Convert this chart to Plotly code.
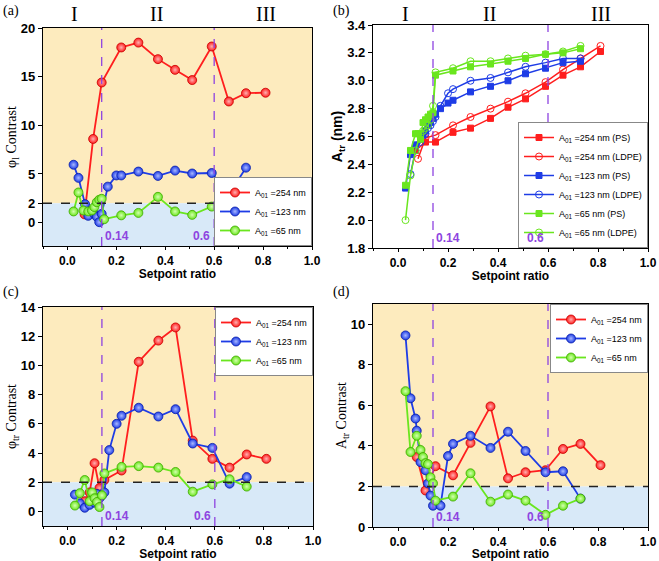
import plotly.graph_objects as go

# ---------------- data ----------------
# (a) phi_1 contrast
a_red_x = [0.07, 0.105, 0.14, 0.22, 0.29, 0.37, 0.44, 0.51, 0.59, 0.66, 0.73, 0.81]
a_red_y = [0.85, 8.6, 14.4, 18.0, 18.5, 16.8, 15.7, 14.65, 18.1, 12.45, 13.3, 13.35]
a_blue_x = [0.025, 0.045, 0.072, 0.085, 0.11, 0.12, 0.13, 0.14, 0.165, 0.2, 0.22, 0.29, 0.37, 0.44, 0.51, 0.59, 0.66, 0.73]
a_blue_y = [5.95, 4.6, 1.9, 0.7, 0.9, 0.6, 0.05, 0.9, 3.7, 4.85, 4.85, 5.25, 4.8, 5.35, 5.05, 5.1, 2.9, 5.65]
a_green_x = [0.025, 0.045, 0.065, 0.085, 0.1, 0.11, 0.12, 0.13, 0.14, 0.15, 0.22, 0.29, 0.37, 0.44, 0.51, 0.59, 0.66, 0.73]
a_green_y = [1.15, 3.1, 1.25, 1.15, 1.25, 1.6, 2.1, 2.35, 2.45, 0.35, 0.75, 1.0, 2.65, 1.15, 0.8, 1.65, 2.4, 2.0]

# (b) A_tr (nm)
b_red_ps_x = [0.07, 0.11, 0.15, 0.22, 0.29, 0.37, 0.44, 0.51, 0.59, 0.66, 0.73, 0.81]
b_red_ps_y = [2.50, 2.56, 2.56, 2.63, 2.66, 2.73, 2.81, 2.87, 2.96, 3.04, 3.10, 3.21]
b_red_ld_x = [0.08, 0.11, 0.15, 0.22, 0.29, 0.37, 0.44, 0.51, 0.59, 0.66, 0.73, 0.81]
b_red_ld_y = [2.44, 2.59, 2.61, 2.68, 2.74, 2.80, 2.85, 2.91, 2.99, 3.08, 3.16, 3.25]
b_blue_ps_x = [0.03, 0.05, 0.07, 0.09, 0.10, 0.11, 0.12, 0.13, 0.14, 0.15, 0.17, 0.20, 0.22, 0.29, 0.37, 0.44, 0.51, 0.59, 0.66, 0.73]
b_blue_ps_y = [2.23, 2.47, 2.54, 2.58, 2.61, 2.64, 2.68, 2.70, 2.73, 2.76, 2.80, 2.84, 2.86, 2.92, 2.96, 3.00, 3.05, 3.09, 3.13, 3.14]
b_blue_ld_x = [0.05, 0.07, 0.09, 0.11, 0.12, 0.13, 0.14, 0.15, 0.17, 0.20, 0.22, 0.29, 0.37, 0.44, 0.51, 0.59, 0.66, 0.73]
b_blue_ld_y = [2.33, 2.50, 2.56, 2.62, 2.66, 2.68, 2.71, 2.74, 2.82, 2.91, 2.94, 3.00, 3.02, 3.06, 3.10, 3.13, 3.16, 3.16]
b_green_ps_x = [0.03, 0.05, 0.07, 0.08, 0.09, 0.10, 0.11, 0.12, 0.13, 0.14, 0.15, 0.22, 0.29, 0.37, 0.44, 0.51, 0.59, 0.66, 0.73]
b_green_ps_y = [2.25, 2.50, 2.62, 2.62, 2.58, 2.70, 2.72, 2.74, 2.76, 2.77, 3.04, 3.07, 3.10, 3.12, 3.14, 3.16, 3.19, 3.20, 3.23]
b_green_ld_x = [0.03, 0.05, 0.07, 0.09, 0.10, 0.11, 0.12, 0.13, 0.14, 0.15, 0.22, 0.29, 0.37, 0.44, 0.51, 0.59, 0.66, 0.73]
b_green_ld_y = [2.00, 2.32, 2.50, 2.62, 2.64, 2.66, 2.68, 2.72, 2.82, 3.06, 3.09, 3.14, 3.14, 3.16, 3.18, 3.19, 3.21, 3.25]

# (c) phi_tr contrast
c_red_x = [0.07, 0.09, 0.11, 0.13, 0.15, 0.22, 0.29, 0.37, 0.44, 0.51, 0.59, 0.66, 0.73, 0.81]
c_red_y = [0.7, 1.3, 3.3, 1.6, 2.15, 2.8, 10.25, 11.7, 12.6, 4.85, 3.6, 3.0, 3.9, 3.6]
c_blue_x = [0.03, 0.05, 0.07, 0.09, 0.10, 0.11, 0.12, 0.13, 0.14, 0.15, 0.17, 0.2, 0.22, 0.29, 0.37, 0.44, 0.51, 0.59, 0.66, 0.73]
c_blue_y = [1.15, 0.55, 0.25, 0.45, 0.8, 0.6, 1.2, 0.9, 1.1, 1.3, 4.2, 6.0, 6.55, 7.1, 6.5, 7.0, 4.65, 4.35, 1.9, 2.35]
c_green_x = [0.03, 0.05, 0.07, 0.09, 0.10, 0.11, 0.12, 0.13, 0.14, 0.15, 0.22, 0.29, 0.37, 0.44, 0.51, 0.59, 0.66, 0.73]
c_green_y = [0.4, 1.25, 2.15, 0.7, 1.3, 0.9, 0.65, 0.3, 1.1, 2.6, 3.05, 3.1, 3.0, 2.7, 1.35, 1.85, 2.2, 1.7]

# (d) A_tr contrast
d_red_x = [0.075, 0.11, 0.15, 0.22, 0.29, 0.37, 0.44, 0.51, 0.59, 0.66, 0.73, 0.81]
d_red_y = [3.45, 1.8, 3.0, 2.55, 4.15, 5.95, 2.4, 2.7, 2.8, 3.85, 4.1, 3.05]
d_blue_x = [0.03, 0.05, 0.07, 0.075, 0.09, 0.11, 0.12, 0.13, 0.14, 0.17, 0.2, 0.22, 0.29, 0.37, 0.44, 0.51, 0.59, 0.66, 0.73]
d_blue_y = [9.45, 6.35, 5.35, 4.75, 3.2, 2.8, 2.15, 1.55, 1.05, 1.05, 3.5, 4.1, 4.5, 3.9, 4.7, 3.75, 2.7, 2.75, 1.4]
d_green_x = [0.03, 0.05, 0.075, 0.09, 0.1, 0.11, 0.12, 0.13, 0.14, 0.15, 0.22, 0.29, 0.37, 0.44, 0.51, 0.59, 0.66, 0.73]
d_green_y = [6.7, 3.7, 4.5, 3.8, 3.45, 3.15, 3.1, 2.45, 2.15, 1.3, 1.5, 2.65, 1.25, 1.6, 1.3, 0.6, 1.05, 1.4]

names3 = ["A<sub>01</sub> =254 nm", "A<sub>01</sub> =123 nm", "A<sub>01</sub> =65 nm"]
names6 = ["A<sub>01</sub> =254 nm (PS)", "A<sub>01</sub> =254 nm (LDPE)",
          "A<sub>01</sub> =123 nm (PS)", "A<sub>01</sub> =123 nm (LDPE)",
          "A<sub>01</sub> =65 nm (PS)", "A<sub>01</sub> =65 nm (LDPE)"]
regions = ["I", "II", "III"]
region_x = [0.03, 0.365, 0.81]
thresholds = [0.14, 0.6]
threshold_labels = ["0.14", "0.6"]

# ---------------- style ----------------
RED, BLUE, GREEN = "#FF1E1E", "#1E3CE6", "#6AE61E"
RED_D, BLUE_D, GREEN_D = "#C80000", "#0A1FA8", "#3FA800"
RED_L, BLUE_L, GREEN_L = "#FFB0B0", "#A8B8FF", "#D4FFB0"
PURPLE = "#8E44E0"
YELLOW_BG = "#FDEBBE"
BLUE_BG = "#D8E9F8"
SANS = "Liberation Sans"
SERIF = "Liberation Serif"

W, H = 659, 561
def px_x(p):
    return p / W
def px_y(p):
    return 1 - p / H

dom = {
    "a": ([px_x(43), px_x(312)], [px_y(246), px_y(28)]),
    "b": ([px_x(373), px_x(648)], [px_y(248), px_y(25)]),
    "c": ([px_x(43), px_x(313)], [px_y(526), px_y(307)]),
    "d": ([px_x(373), px_x(648)], [px_y(527), px_y(304)]),
}
axmap = {"a": ("x", "y", ""), "b": ("x2", "y2", "2"), "c": ("x3", "y3", "3"), "d": ("x4", "y4", "4")}
legmap = {"a": "legend", "b": "legend2", "c": "legend3", "d": "legend4"}

fig = go.Figure()

def sphere_trace(p, x, y, name, col, dark, light):
    xa, ya, _ = axmap[p]
    fig.add_trace(go.Scatter(
        x=x, y=y, name=name, mode="lines+markers", xaxis=xa, yaxis=ya,
        legend=legmap[p],
        line=dict(color=col, width=1.8),
        marker=dict(symbol="circle", size=9, color=col,
                    line=dict(color=dark, width=0.8),
                    gradient=dict(type="radial", color=light)),
    ))

for p, series in [
    ("a", [(a_red_x, a_red_y), (a_blue_x, a_blue_y), (a_green_x, a_green_y)]),
    ("c", [(c_red_x, c_red_y), (c_blue_x, c_blue_y), (c_green_x, c_green_y)]),
    ("d", [(d_red_x, d_red_y), (d_blue_x, d_blue_y), (d_green_x, d_green_y)]),
]:
    for (sx, sy), nm, col, dk, lt in zip(series, names3, [RED, BLUE, GREEN], [RED_D, BLUE_D, GREEN_D], [RED_L, BLUE_L, GREEN_L]):
        sphere_trace(p, sx, sy, nm, col, dk, lt)

b_series = [(b_red_ps_x, b_red_ps_y), (b_red_ld_x, b_red_ld_y),
            (b_blue_ps_x, b_blue_ps_y), (b_blue_ld_x, b_blue_ld_y),
            (b_green_ps_x, b_green_ps_y), (b_green_ld_x, b_green_ld_y)]
b_cols = [RED, RED, BLUE, BLUE, GREEN, GREEN]
for i, ((sx, sy), nm, col) in enumerate(zip(b_series, names6, b_cols)):
    filled = i % 2 == 0
    fig.add_trace(go.Scatter(
        x=sx, y=sy, name=nm, mode="lines+markers", xaxis="x2", yaxis="y2",
        legend="legend2",
        line=dict(color=col, width=1.5),
        marker=dict(symbol="square" if filled else "circle-open", size=6 if filled else 7,
                    color=col, line=dict(color=col, width=1)),
    ))

shapes = []
annotations = []
yranges = {"a": [-2.4, 20], "b": [1.8, 3.4], "c": [-1, 14], "d": [0, 11]}

for p in ["a", "b", "c", "d"]:
    xa, ya, sfx = axmap[p]
    if p != "b":
        shapes.append(dict(type="rect", xref=f"{xa} domain", yref=ya, x0=0, x1=1, y0=2, y1=yranges[p][1],
                           fillcolor=YELLOW_BG, line=dict(width=0), layer="below"))
        shapes.append(dict(type="rect", xref=f"{xa} domain", yref=ya, x0=0, x1=1, y0=yranges[p][0], y1=2,
                           fillcolor=BLUE_BG, line=dict(width=0), layer="below"))
        shapes.append(dict(type="line", xref=f"{xa} domain", yref=ya, x0=0, x1=1, y0=2, y1=2,
                           line=dict(color="#222222", width=1.5, dash="dash"), layer="above"))
    for t in thresholds:
        shapes.append(dict(type="line", xref=xa, yref=f"{ya} domain", x0=t, x1=t, y0=0, y1=1,
                           line=dict(color=PURPLE, width=1.3, dash="dash"), layer="above"))
    annotations.append(dict(x=thresholds[0], y=0, xref=xa, yref=f"{ya} domain", text=f"<b>{threshold_labels[0]}</b>",
                            showarrow=False, xanchor="left", yanchor="bottom", xshift=1, yshift=1,
                            font=dict(family=SANS, size=12, color=PURPLE)))
    annotations.append(dict(x=thresholds[1], y=0, xref=xa, yref=f"{ya} domain", text=f"<b>{threshold_labels[1]}</b>",
                            showarrow=False, xanchor="right", yanchor="bottom", xshift=-2, yshift=1,
                            font=dict(family=SANS, size=12, color=PURPLE)))
    if p in ("a", "b"):
        for r, rx in zip(regions, region_x):
            annotations.append(dict(x=rx, y=px_y(14), xref=xa, yref="paper", text=r, showarrow=False,
                                    xanchor="center", yanchor="middle",
                                    font=dict(family=SERIF, size=20, color="black")))

# panel letters
for lbl, lx, ly in [("(a)", 1, 11), ("(b)", 331, 11), ("(c)", 1, 292), ("(d)", 331, 292)]:
    annotations.append(dict(x=px_x(lx), y=px_y(ly), xref="paper", yref="paper", text=lbl, showarrow=False,
                            xanchor="left", yanchor="middle", font=dict(family=SERIF, size=14, color="black")))

layout = dict(
    width=W, height=H, margin=dict(l=0, r=0, t=0, b=0, autoexpand=False),
    paper_bgcolor="white", plot_bgcolor="white",
    shapes=shapes, annotations=annotations,
)

ytitles = {"a": ("φ<sub>l</sub> Contrast", SERIF, False),
           "b": ("A<sub>tr</sub> (nm)", SANS, True),
           "c": ("φ<sub>tr</sub> Contrast", SERIF, False),
           "d": ("A<sub>tr</sub> Contrast", SERIF, False)}
yticks = {"a": [0, 2, 5, 10, 15, 20], "b": [1.8, 2.0, 2.2, 2.4, 2.6, 2.8, 3.0, 3.2, 3.4],
          "c": [0, 2, 4, 6, 8, 10, 12, 14], "d": [0, 2, 4, 6, 8, 10]}
ytickfmt = {"a": "d", "b": ".1f", "c": "d", "d": "d"}

for p in ["a", "b", "c", "d"]:
    xa, ya, sfx = axmap[p]
    xd, yd = dom[p]
    tt, tf, tb = ytitles[p]
    layout["xaxis" + sfx] = dict(
        domain=xd, anchor=ya, range=[-0.1, 1.0], tickvals=[0, 0.2, 0.4, 0.6, 0.8, 1.0], tickformat=".1f",
        automargin=False,
        showgrid=False, zeroline=False, showline=True, linecolor="black", linewidth=1.2, mirror=True,
        ticks="outside", ticklen=3, tickwidth=1.2, tickcolor="black",
        minor=dict(ticks="outside", ticklen=2, tickvals=[-0.1, 0.1, 0.3, 0.5, 0.7, 0.9], tickcolor="black"),
        tickfont=dict(family=SANS, size=12, color="black", weight="bold"),
        title=dict(text="<b>Setpoint ratio</b>", font=dict(family=SANS, size=12, color="black"), standoff=2),
    )
    layout["yaxis" + sfx] = dict(
        domain=yd, anchor=xa, range=yranges[p], tickvals=yticks[p], tickformat=ytickfmt[p],
        automargin=False,
        showgrid=False, zeroline=False, showline=True, linecolor="black", linewidth=1.2, mirror=True,
        ticks="outside", ticklen=4, tickwidth=1.2, tickcolor="black",
        tickfont=dict(family=SANS, size=13, color="black", weight="bold"),
        title=dict(text=(f"<b>{tt}</b>" if tb else tt), font=dict(family=tf, size=14, color="black"), standoff=0),
    )

leg_common = dict(bgcolor="white", bordercolor="#888888", borderwidth=1,
                  font=dict(family=SANS, size=9, color="black"), tracegroupgap=0,
                  itemwidth=30, xanchor="right", yanchor="bottom")
layout["legend"] = dict(leg_common, x=px_x(312), y=px_y(246))
layout["legend2"] = dict(leg_common, x=px_x(648), y=px_y(248))
layout["legend3"] = dict(leg_common, x=px_x(313), y=px_y(307), yanchor="top")
layout["legend4"] = dict(leg_common, x=px_x(648), y=px_y(304), yanchor="top")

fig.update_layout(**layout)
fig.write_html("out.html", config={"displayModeBar": False},
               post_script="document.body.style.margin='0px';")
